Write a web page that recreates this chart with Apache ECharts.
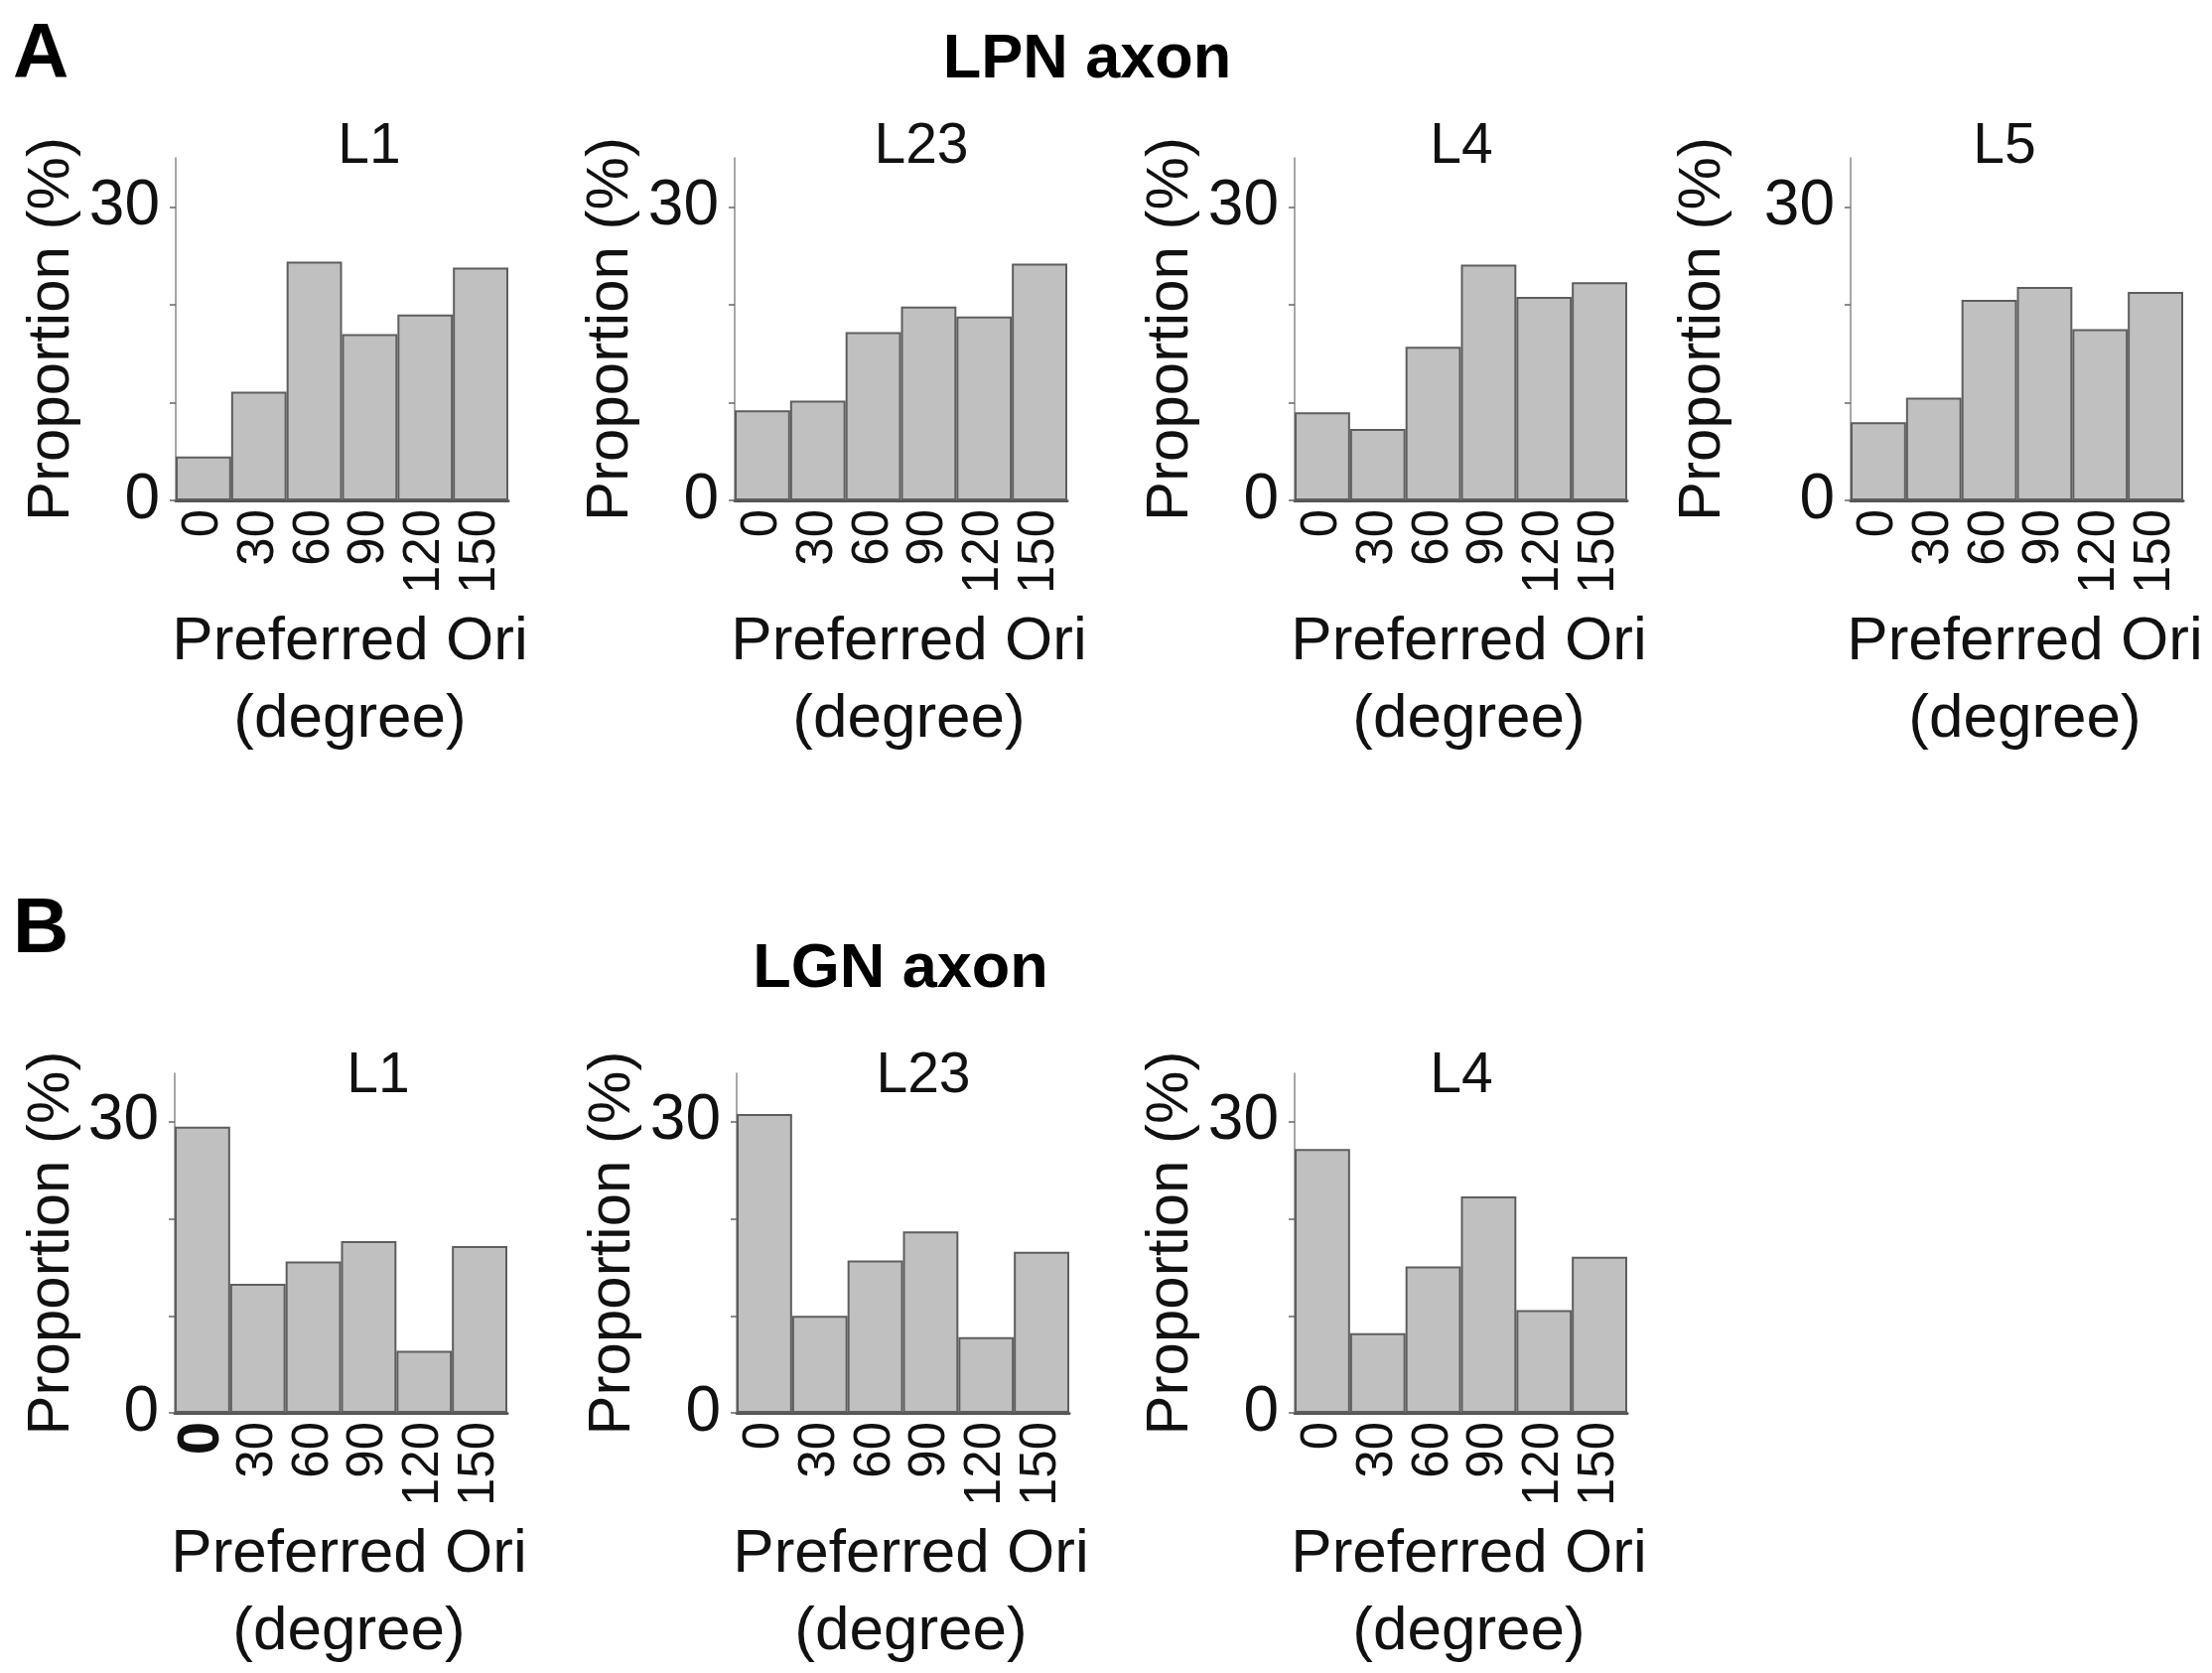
<!DOCTYPE html>
<html>
<head>
<meta charset="utf-8">
<script src="https://cdn.jsdelivr.net/npm/echarts@6.0.0/dist/echarts.min.js"></script>
<style>
  html, body { margin: 0; padding: 0; background: #fff; }
  #chart { width: 2228px; height: 1685px; }
</style>
</head>
<body>
<div id="chart"></div>
<script>
// preferred orientation bins (degree)
var categories = ['0', '30', '60', '90', '120', '150'];

// proportion (%) per bin
var lpnL1  = [4.5, 11.1, 24.4, 17.0, 19.0, 23.8];
var lpnL23 = [9.2, 10.2, 17.2, 19.8, 18.8, 24.2];
var lpnL4  = [9.0, 7.3, 15.7, 24.1, 20.8, 22.3];
var lpnL5  = [8.0, 10.5, 20.5, 21.8, 17.5, 21.3];
var lgnL1  = [29.5, 13.3, 15.6, 17.7, 6.4, 17.2];
var lgnL23 = [30.8, 10.0, 15.7, 18.7, 7.8, 16.6];
var lgnL4  = [27.2, 8.2, 15.1, 22.3, 10.6, 16.1];

var yTickValues = [0, 10, 20, 30];
var yLabelValues = [0, 30];
var yMax = 35;

var FONT = '"Liberation Sans", Arial, Helvetica, sans-serif';
var INK = '#111';

// panel layout (pixels)
var panels = [
    {title: 'L1',  data: lpnL1,  left: 177,  top: 159,  height: 345, tx: 372,  ty: 148,  gap: 95},
    {title: 'L23', data: lpnL23, left: 740,  top: 159,  height: 345, tx: 928,  ty: 148,  gap: 95},
    {title: 'L4',  data: lpnL4,  left: 1304, top: 159,  height: 345, tx: 1472, ty: 148,  gap: 95},
    {title: 'L5',  data: lpnL5,  left: 1864, top: 159,  height: 345, tx: 2019, ty: 148,  gap: 119},
    {title: 'L1',  data: lgnL1,  left: 176,  top: 1081, height: 342, tx: 381,  ty: 1084, gap: 94, boldZero: true},
    {title: 'L23', data: lgnL23, left: 742,  top: 1081, height: 342, tx: 930,  ty: 1084, gap: 95},
    {title: 'L4',  data: lgnL4,  left: 1304, top: 1081, height: 342, tx: 1472, ty: 1084, gap: 95}
];
var plotWidth = 335;

var grids = [], xAxes = [], yAxes = [], series = [];
var graphics = [
    {type: 'text', x: 13, y: 56, style: {text: 'A', font: 'bold 78px ' + FONT, fill: '#000', textVerticalAlign: 'middle'}},
    {type: 'text', x: 13, y: 937, style: {text: 'B', font: 'bold 78px ' + FONT, fill: '#000', textVerticalAlign: 'middle'}},
    {type: 'text', x: 1095, y: 61, style: {text: 'LPN axon', font: 'bold 63px ' + FONT, fill: '#000', textAlign: 'center', textVerticalAlign: 'middle'}},
    {type: 'text', x: 907, y: 977, style: {text: 'LGN axon', font: 'bold 63px ' + FONT, fill: '#000', textAlign: 'center', textVerticalAlign: 'middle'}}
];

panels.forEach(function (p, i) {
    grids.push({left: p.left, top: p.top, width: plotWidth, height: p.height});
    xAxes.push({
        type: 'category',
        gridIndex: i,
        data: categories,
        boundaryGap: true,
        axisLine: {show: true, lineStyle: {color: '#555', width: 3}},
        axisTick: {show: false},
        axisLabel: {
            rotate: 90,
            margin: 9,
            interval: 0,
            fontSize: 51,
            fontFamily: FONT,
            color: INK,
            formatter: function (v) {
                return (p.boldZero && v === '0') ? '{b|0}' : v;
            },
            rich: {b: {fontSize: 60, fontWeight: 'bold', fontFamily: FONT, color: INK}}
        },
        name: 'Preferred Ori\n(degree)',
        nameLocation: 'middle',
        nameGap: 104,
        nameMoveOverlap: false,
        nameTextStyle: {fontSize: 62, lineHeight: 78, fontFamily: FONT, color: INK, padding: [0, 0, 0, 16]}
    });
    yAxes.push({
        type: 'value',
        gridIndex: i,
        min: 0,
        max: yMax,
        interval: 10,
        splitLine: {show: false},
        axisLine: {show: true, lineStyle: {color: '#8a8a8a', width: 1.5}},
        axisTick: {show: true, length: 6, customValues: yTickValues, lineStyle: {color: '#666', width: 1.5}},
        axisLabel: {
            customValues: yLabelValues,
            margin: 16,
            fontSize: 64,
            fontFamily: FONT,
            color: INK
        },
        name: 'Proportion (%)',
        nameLocation: 'middle',
        nameRotate: 90,
        nameGap: p.gap,
        nameMoveOverlap: false,
        nameTextStyle: {fontSize: 60, fontFamily: FONT, color: INK}
    });
    series.push({
        type: 'bar',
        xAxisIndex: i,
        yAxisIndex: i,
        data: p.data,
        barCategoryGap: '0%',
        itemStyle: {color: '#c0c0c0', borderColor: '#5e5e5e', borderWidth: 2},
        emphasis: {disabled: true},
        silent: true
    });
    graphics.push({
        type: 'text', x: p.tx, y: p.ty,
        style: {text: p.title, font: '57px ' + FONT, fill: INK, textAlign: 'center', textVerticalAlign: 'middle'}
    });
});

var chart = echarts.init(document.getElementById('chart'), null, {renderer: 'canvas'});
chart.setOption({
    backgroundColor: '#fff',
    animation: false,
    grid: grids,
    xAxis: xAxes,
    yAxis: yAxes,
    series: series,
    graphic: graphics
});
</script>
</body>
</html>
